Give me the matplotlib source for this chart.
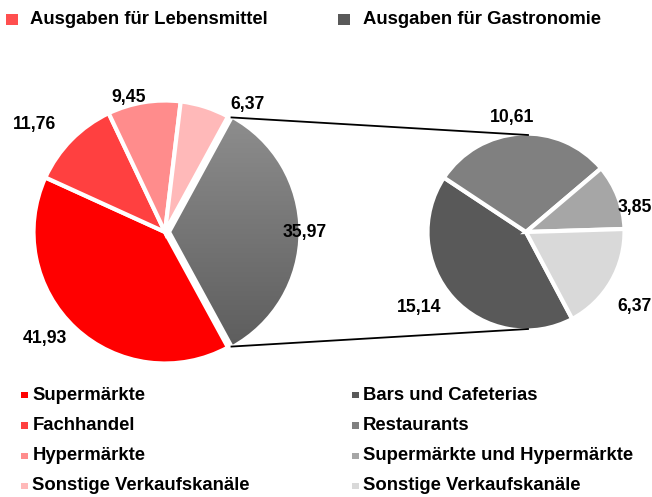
import numpy as np
import matplotlib.pyplot as plt
from matplotlib.patches import Rectangle
from matplotlib.colors import LinearSegmentedColormap

plt.rcParams['font.family'] = ['Liberation Sans', 'DejaVu Sans']
plt.rcParams['font.weight'] = 'bold'

# Daten
group_labels = ["Ausgaben für Lebensmittel", "Ausgaben für Gastronomie"]
food_labels = ["Supermärkte", "Fachhandel", "Hypermärkte", "Sonstige Verkaufskanäle"]
food_values = [41.93, 11.76, 9.45, 6.37]
gastro_total = 35.97
gastro_labels = ["Bars und Cafeterias", "Restaurants",
                 "Supermärkte und Hypermärkte", "Sonstige Verkaufskanäle"]
gastro_values = [15.14, 10.61, 3.85, 6.37]

# Farben
group_colors = ["#ff4f4f", "#595959"]
food_colors = ["#ff0000", "#ff4040", "#ff8c8c", "#ffb9b9"]
gastro_colors = ["#595959", "#808080", "#a6a6a6", "#d9d9d9"]

W, H = 652, 497
fig = plt.figure(figsize=(W / 100, H / 100), dpi=100)
ax = fig.add_axes([0, 0, 1, 1])


def fmt(v):
    return f"{v:.2f}".replace(".", ",")


# linke Torte
c1 = (165, H - 232)
r1 = 131.5
vals1 = food_values + [gastro_total]
start1 = -gastro_total / sum(vals1) * 180
w1, _ = ax.pie(vals1, colors=food_colors + ["none"], center=c1, radius=r1,
               startangle=start1, counterclock=False,
               explode=[0, 0, 0, 0, 4],
               wedgeprops=dict(edgecolor="white", linewidth=3))

# Verlauf im Gastronomie-Segment
gw = w1[-1]
cmap = LinearSegmentedColormap.from_list("grau", ["#5a5a5a", "#919191"])
grad = np.linspace(0, 1, 256).reshape(-1, 1)
im = ax.imshow(grad, cmap=cmap, origin="lower", aspect="auto", zorder=0,
               extent=[c1[0] - r1, c1[0] + r1 + 10, c1[1] - r1, c1[1] + r1])
im.set_clip_path(gw)

# rechte Torte
c2 = (526, H - 232)
r2 = 98.5
w2, _ = ax.pie(gastro_values, colors=gastro_colors, center=c2, radius=r2,
               startangle=-62, counterclock=False,
               wedgeprops=dict(edgecolor="white", linewidth=3))

# Verbindungslinien
gx, gy = gw.center
for th, yy in [(gw.theta2, c2[1] + r2 - 1.5), (gw.theta1, c2[1] - r2 + 1.5)]:
    x0 = gx + (gw.r - 1) * np.cos(np.radians(th))
    y0 = gy + (gw.r - 1) * np.sin(np.radians(th))
    ax.plot([x0, c2[0] + 2], [y0, yy], color="black", lw=1.3, zorder=3)

# Beschriftungen
lab_r1 = [1.24, 1.30, 1.075, 1.167, 1.077]
lab_s1 = [-5.5, 5, 6, -15.4, 0]
lab_r2 = [1.35, 1.19, 1.15, 1.36]
lab_s2 = [-7, 3.8, -8.5, -4.4]


def put_labels(wedges, values, center, r, dists, shifts):
    for w, v, d, s in zip(wedges, values, dists, shifts):
        a = np.radians((w.theta1 + w.theta2) / 2 + s)
        ax.text(center[0] + d * r * np.cos(a), center[1] + d * r * np.sin(a),
                fmt(v), ha="center", va="center", fontsize=12.7,
                fontweight="bold", color="black")


put_labels(w1, vals1, c1, r1 - 1.5, lab_r1, lab_s1)
put_labels(w2, gastro_values, c2, r2 - 1.5, lab_r2, lab_s2)

# Legende oben
for x_sq, x_t, lab, col in zip([6, 338], [30, 363], group_labels, group_colors):
    ax.add_patch(Rectangle((x_sq, H - 25), 11.5, 11.5, color=col, lw=0))
    ax.text(x_t, H - 19.5, lab, ha="left", va="center", fontsize=13.3,
            fontweight="bold")

# Legende unten
rows = [395, 425.5, 456, 486]
for x_sq, x_t, labs, cols in [(20.7, 32.5, food_labels, food_colors),
                              (352, 363, gastro_labels, gastro_colors)]:
    for y, lab, col in zip(rows, labs, cols):
        ax.add_patch(Rectangle((x_sq, H - y - 3.4), 6.8, 6.8, color=col, lw=0))
        ax.text(x_t, H - y, lab, ha="left", va="center", fontsize=13.3,
                fontweight="bold")

ax.set_xlim(0, W)
ax.set_ylim(0, H)
ax.set_aspect("equal")
ax.axis("off")

fig.savefig("out.png", dpi=100)
